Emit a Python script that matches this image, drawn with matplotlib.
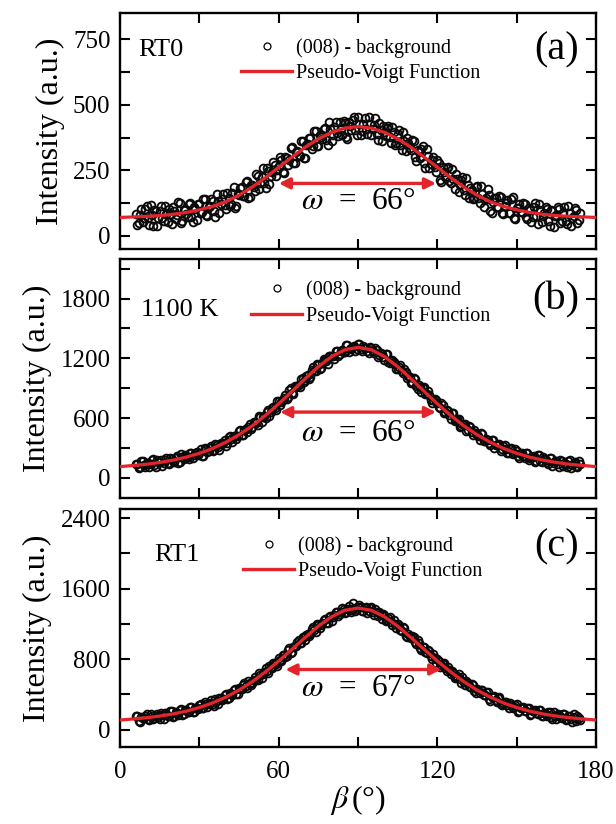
import matplotlib

matplotlib.use("Agg")
import matplotlib.pyplot as plt
from matplotlib.lines import Line2D
import numpy as np

# measured angles (deg): one scan on whole degrees, one on half degrees
BETA = np.arange(6, 175, 1.0)
BETA_HALF = np.arange(6.5, 174, 1.0)

RT0_DATA = [
    84, 48, 103, 66, 115, 42, 80, 98, 36, 95, 66, 114, 52, 84, 109, 64, 129, 50, 97, 84,
    122, 71, 110, 59, 123, 92, 142, 77, 115, 132, 73, 133, 121, 159, 104, 146, 123, 185, 115, 156,
    186, 153, 210, 149, 194, 172, 229, 202, 257, 183, 247, 227, 280, 230, 266, 291, 240, 298, 289, 339,
    279, 325, 305, 362, 297, 351, 374, 342, 401, 343, 377, 408, 365, 433, 361, 414, 392, 435, 385, 430,
    370, 419, 441, 403, 452, 384, 426, 409, 452, 386, 422, 389, 432, 360, 398, 412, 377, 416, 345, 388,
    345, 398, 323, 353, 326, 363, 287, 320, 332, 279, 330, 259, 289, 263, 291, 214, 261, 224, 264, 200,
    216, 235, 167, 213, 176, 219, 143, 175, 144, 190, 126, 158, 138, 177, 93, 130, 144, 108, 148, 83,
    126, 87, 141, 67, 105, 122, 89, 123, 64, 99, 73, 126, 46, 97, 74, 109, 57, 98, 34, 79,
    102, 58, 111, 43, 85, 69, 106, 47, 88,
]
RT0_DATA_HALF = [
    42, 81, 53, 103, 69, 117, 37, 93, 66, 112, 55, 84, 102, 45, 96, 81, 125, 58, 99, 72,
    124, 53, 103, 121, 86, 140, 79, 110, 139, 94, 161, 87, 141, 119, 163, 115, 162, 106, 159, 184,
    151, 206, 145, 194, 186, 237, 179, 226, 203, 257, 196, 245, 272, 250, 302, 244, 299, 270, 337, 276,
    321, 307, 360, 298, 346, 372, 333, 399, 341, 385, 371, 412, 348, 408, 383, 434, 381, 408, 437, 379,
    433, 404, 455, 386, 425, 399, 449, 389, 425, 408, 449, 366, 404, 418, 382, 420, 354, 395, 353, 404,
    326, 360, 373, 335, 364, 300, 329, 297, 344, 257, 303, 273, 302, 243, 277, 206, 244, 260, 208, 255,
    180, 215, 192, 223, 157, 193, 183, 139, 188, 145, 189, 110, 143, 155, 88, 143, 109, 153, 86, 114,
    135, 87, 147, 65, 107, 91, 125, 70, 105, 51, 111, 76, 122, 53, 88, 101, 37, 93, 76, 110,
    50, 87, 58, 115, 39, 75, 98, 59,
]

K1100_DATA = [
    142, 103, 164, 129, 147, 108, 179, 129, 176, 156, 115, 182, 145, 200, 169, 197, 150, 235, 186, 217,
    188, 252, 224, 263, 252, 221, 303, 255, 302, 266, 339, 309, 353, 349, 320, 414, 385, 416, 394, 468,
    434, 477, 455, 543, 512, 563, 531, 612, 607, 605, 684, 659, 712, 680, 772, 761, 805, 792, 881, 847,
    917, 924, 908, 1003, 983, 1028, 1015, 1109, 1073, 1134, 1106, 1192, 1169, 1219, 1220, 1193, 1276, 1242, 1286, 1261,
    1331, 1292, 1311, 1273, 1345, 1292, 1326, 1302, 1249, 1305, 1249, 1288, 1236, 1247, 1183, 1240, 1157, 1184, 1138, 1089,
    1129, 1053, 1066, 1026, 954, 1002, 926, 929, 864, 907, 840, 831, 756, 789, 747, 696, 731, 662, 667, 588,
    648, 579, 593, 522, 530, 473, 522, 455, 476, 434, 383, 443, 370, 383, 331, 378, 330, 334, 264, 315,
    291, 245, 304, 246, 270, 200, 245, 200, 246, 202, 210, 159, 233, 164, 204, 175, 140, 198, 147, 172,
    110, 169, 148, 107, 177, 126, 161, 104, 138,
]
K1100_DATA_HALF = [
    136, 113, 168, 111, 151, 140, 187, 112, 156, 178, 150, 198, 141, 192, 160, 223, 157, 204, 229, 205,
    249, 199, 244, 227, 291, 222, 285, 272, 318, 278, 333, 282, 341, 377, 347, 416, 363, 422, 421, 475,
    434, 494, 507, 488, 563, 546, 616, 563, 622, 661, 622, 703, 697, 767, 728, 784, 833, 812, 900, 845,
    915, 927, 988, 961, 1022, 993, 1080, 1070, 1142, 1096, 1152, 1187, 1144, 1221, 1222, 1271, 1226, 1276, 1262, 1329,
    1259, 1299, 1328, 1294, 1344, 1272, 1306, 1273, 1318, 1273, 1307, 1213, 1255, 1213, 1241, 1163, 1171, 1167, 1089, 1117,
    1077, 1095, 1002, 1017, 965, 989, 891, 913, 904, 841, 868, 779, 783, 784, 712, 752, 651, 678, 630, 647,
    573, 594, 512, 539, 539, 482, 513, 428, 453, 422, 451, 370, 394, 349, 382, 301, 329, 336, 293, 326,
    250, 289, 242, 292, 214, 243, 214, 252, 175, 209, 222, 171, 224, 154, 187, 163, 195, 121, 172, 138,
    183, 123, 143, 165, 102, 153, 120, 167,
]

RT1_DATA = [
    160, 96, 141, 129, 176, 115, 158, 131, 182, 117, 163, 187, 161, 210, 149, 203, 172, 239, 176, 219,
    206, 260, 199, 249, 276, 241, 311, 257, 306, 297, 346, 290, 359, 343, 404, 364, 403, 445, 401, 470,
    459, 527, 476, 534, 528, 602, 565, 625, 632, 698, 644, 709, 751, 743, 811, 777, 849, 839, 922, 877,
    945, 991, 986, 1049, 1019, 1082, 1082, 1163, 1109, 1188, 1187, 1245, 1215, 1279, 1237, 1298, 1336, 1307, 1375, 1322,
    1370, 1359, 1440, 1349, 1396, 1387, 1345, 1394, 1351, 1395, 1306, 1330, 1332, 1256, 1299, 1248, 1273, 1189, 1198, 1201,
    1129, 1167, 1061, 1081, 1041, 1050, 970, 981, 901, 936, 875, 897, 802, 812, 799, 711, 744, 703, 714, 630,
    645, 595, 629, 532, 546, 551, 493, 524, 438, 458, 413, 447, 396, 428, 331, 374, 333, 364, 293, 308,
    315, 246, 286, 259, 291, 215, 245, 209, 250, 169, 211, 221, 176, 222, 152, 176, 197, 145, 203, 121,
    167, 138, 174, 117, 155, 91, 136, 154, 112,
]
RT1_DATA_HALF = [
    160, 93, 137, 159, 117, 180, 120, 161, 146, 187, 123, 182, 158, 211, 160, 189, 222, 168, 227, 204,
    262, 200, 248, 231, 292, 244, 291, 287, 341, 274, 328, 358, 340, 396, 349, 411, 390, 463, 407, 466,
    504, 492, 547, 509, 566, 563, 641, 584, 659, 661, 721, 695, 761, 723, 795, 845, 828, 908, 867, 937,
    948, 1012, 980, 1049, 1071, 1060, 1140, 1128, 1202, 1152, 1211, 1250, 1209, 1289, 1277, 1338, 1290, 1335, 1374, 1338,
    1406, 1331, 1382, 1373, 1409, 1351, 1382, 1324, 1381, 1337, 1370, 1288, 1309, 1309, 1228, 1263, 1226, 1239, 1159, 1172,
    1119, 1150, 1050, 1060, 1058, 992, 1015, 922, 934, 878, 901, 840, 861, 754, 784, 731, 752, 669, 673, 666,
    586, 614, 575, 595, 507, 527, 480, 511, 419, 449, 449, 395, 431, 351, 366, 379, 317, 367, 277, 315,
    280, 308, 245, 276, 206, 246, 257, 210, 249, 175, 212, 191, 228, 157, 191, 156, 198, 125, 161, 175,
    141, 182, 112, 156, 116, 173, 101, 136,
]

# pseudo-Voigt fit read every 5 degrees
FIT_BETA = np.arange(0, 181, 5)
RT0_FIT = [70, 72, 74, 77, 82, 89, 99, 112, 130, 155, 186, 222, 262, 300, 338, 370, 395, 411, 417,
           411, 395, 370, 338, 300, 262, 222, 186, 155, 130, 112, 99, 89, 82, 77, 74, 72, 70]
K1100_FIT = [112, 124, 136, 154, 177, 207, 246, 295, 357, 433, 522, 627, 743, 868, 995, 1116, 1217, 1286, 1310,
             1286, 1217, 1116, 995, 868, 743, 627, 522, 433, 357, 295, 246, 207, 177, 154, 136, 124, 112]
RT1_FIT = [110, 122, 136, 155, 179, 210, 252, 304, 370, 450, 545, 656, 779, 912, 1046, 1174, 1281, 1354, 1380,
           1354, 1281, 1174, 1046, 912, 779, 656, 545, 450, 370, 304, 252, 210, 179, 155, 136, 122, 110]

SAMPLES = ["RT0", "1100 K", "RT1"]
PANEL_TAGS = ["(a)", "(b)", "(c)"]
FWHM_TEXT = ["66°", "66°", "67°"]
FWHM_ENDS = [(60, 119.5, 200), (60.5, 119.5, 660), (62.5, 121.5, 683)]
Y_LIMITS = [(-50, 850), (-200, 2200), (-200, 2500)]
Y_MAJOR = [250, 600, 800]

RED = "#e3242b"

# (left, bottom, width, height) in figure fraction
AXES_RECTS = [
    (0.195, 0.698, 0.7725, 0.286),
    (0.195, 0.396, 0.7725, 0.290),
    (0.195, 0.093, 0.7725, 0.289),
]
LEGEND_ANCHORS = [(0.255, 0.895), (0.276, 0.908), (0.259, 0.887)]
SAMPLE_POS = [(0.038, 0.843), (0.043, 0.787), (0.072, 0.807)]
TAG_Y = [0.843, 0.828, 0.84]
FWHM_TEXT_Y = [129, 447, 467]


def setup_style() -> None:
    plt.rcParams.update(
        {
            "font.family": ["Liberation Serif", "DejaVu Serif"],
            "mathtext.fontset": "stix",
            "axes.linewidth": 1.7,
            "xtick.direction": "in",
            "ytick.direction": "in",
            "xtick.top": True,
            "ytick.right": True,
            "xtick.major.size": 7,
            "ytick.major.size": 7,
            "xtick.minor.size": 7,
            "ytick.minor.size": 7,
            "xtick.major.width": 1.5,
            "ytick.major.width": 1.5,
            "xtick.minor.width": 1.5,
            "ytick.minor.width": 1.5,
            "xtick.labelsize": 18,
            "ytick.labelsize": 18,
        }
    )


def draw_panel(ax, idx, scans, fit) -> None:
    for beta, data in scans:
        ax.plot(beta, data, linestyle="none", marker="o", markersize=5.6,
                markerfacecolor="none", markeredgecolor="#0a0a0a", markeredgewidth=1.35, zorder=2)
    ax.plot(FIT_BETA, fit, color=RED, linewidth=2.3, zorder=3)

    ax.set_xlim(0, 180)
    ax.set_ylim(*Y_LIMITS[idx])
    ax.set_xticks([0, 60, 120, 180])
    ax.set_xticks([30, 90, 150], minor=True)
    major = Y_MAJOR[idx]
    ax.set_yticks(np.arange(0, Y_LIMITS[idx][1] + 1, major))
    ax.set_yticks(np.arange(major / 2, Y_LIMITS[idx][1] + 1, major), minor=True)
    ax.tick_params(axis="x", which="both", pad=10)
    ax.tick_params(axis="y", which="both", pad=7)
    ax.set_ylabel("Intensity (a.u.)", fontsize=23, labelpad=6)

    x0, x1, ya = FWHM_ENDS[idx]
    ax.annotate("", xy=(x0, ya), xytext=(x1, ya),
                arrowprops=dict(arrowstyle="<|-|>", color=RED, lw=2.4, mutation_scale=16,
                                shrinkA=0, shrinkB=0), zorder=4)
    ax.text(90, FWHM_TEXT_Y[idx], r"$\omega$  =  " + FWHM_TEXT[idx], fontsize=22.5,
            ha="center", va="center")

    sx, sy = SAMPLE_POS[idx]
    ax.text(sx, sy, SAMPLES[idx], transform=ax.transAxes, fontsize=19, ha="left", va="center")
    ax.text(0.965, TAG_Y[idx], PANEL_TAGS[idx], transform=ax.transAxes, fontsize=29,
            ha="right", va="center")

    handles = [
        Line2D([], [], linestyle="none", marker="o", markersize=5, markerfacecolor="none",
               markeredgecolor="black", markeredgewidth=0.9),
        Line2D([], [], color=RED, linewidth=2.4),
    ]
    ax.legend(handles, ["(008) - background", "Pseudo-Voigt Function"], loc="upper left",
              bbox_to_anchor=LEGEND_ANCHORS[idx], frameon=False, fontsize=14.5,
              handlelength=2.5, handletextpad=0.2, labelspacing=0.3,
              borderpad=0, borderaxespad=0, numpoints=1)


def main() -> None:
    setup_style()
    fig = plt.figure(figsize=(6.16, 8.24), dpi=100)

    datasets = [
        ([(BETA, RT0_DATA), (BETA_HALF, RT0_DATA_HALF)], RT0_FIT),
        ([(BETA, K1100_DATA), (BETA_HALF, K1100_DATA_HALF)], K1100_FIT),
        ([(BETA, RT1_DATA), (BETA_HALF, RT1_DATA_HALF)], RT1_FIT),
    ]
    for idx, (scans, fit) in enumerate(datasets):
        ax = fig.add_axes(AXES_RECTS[idx])
        draw_panel(ax, idx, scans, fit)
        if idx < 2:
            ax.tick_params(axis="x", labelbottom=False)
        else:
            ax.set_xlabel(r"$\beta\,$(°)", fontsize=23, labelpad=0)

    fig.savefig("out.png", dpi=100)


if __name__ == "__main__":
    main()
